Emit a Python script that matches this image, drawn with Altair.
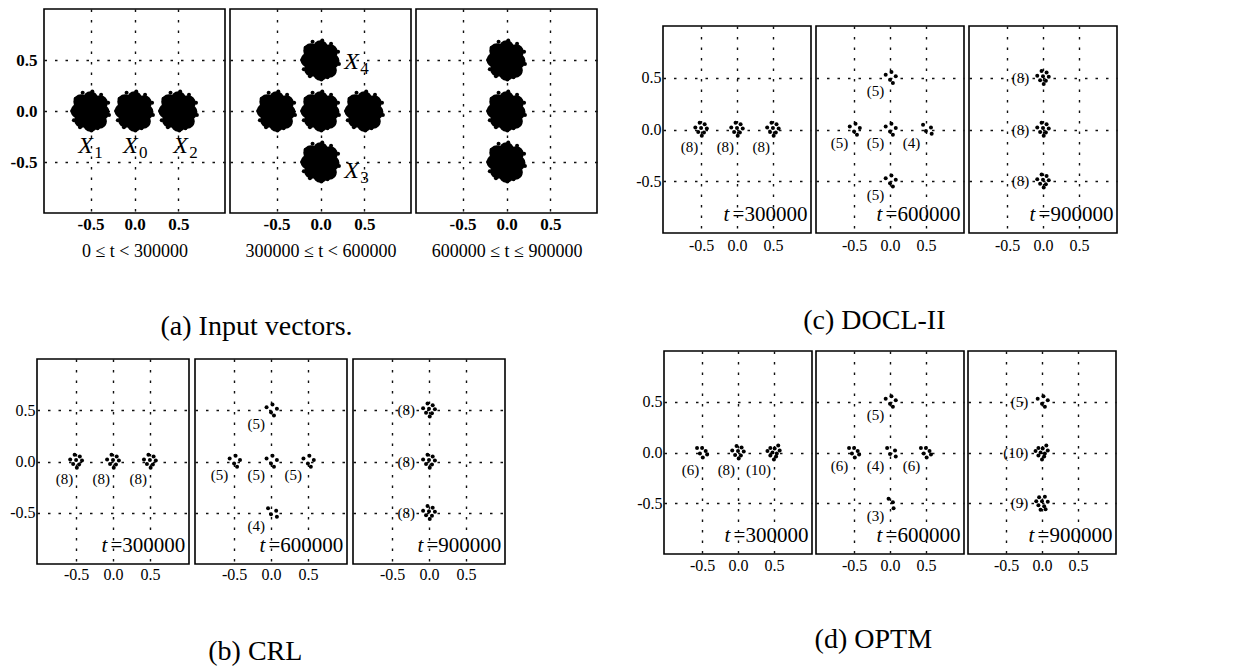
import altair as alt
import pandas as pd

FONT = "Liberation Serif"
TICKS = [-0.5, 0.0, 0.5]
XDOM = [-1.03, 1.03]
YDOM = [-1.0, 1.0]
LABEL_EXPR = "(datum.value < 0 ? '-' : '') + format(abs(datum.value), '.1f')"

# ---------------- (a) Input vectors ----------------
A_CX = [[-0.5, 0.0, 0.5], [0.0, -0.5, 0.0, 0.5, 0.0], [0.0, 0.0, 0.0]]
A_CY = [[0.0, 0.0, 0.0], [0.5, 0.0, 0.0, 0.0, -0.5], [0.5, 0.0, -0.5]]
A_TITLES = ["0 ≤ t < 300000", "300000 ≤ t < 600000", "600000 ≤ t ≤ 900000"]
A_SUB = [["1", "0", "2"], ["4", "3"], []]
A_LX = [[-0.64, -0.13, 0.44], [0.27, 0.27], []]
A_LY = [[-0.41, -0.41, -0.41], [0.41, -0.66], []]
LOBE_DX = [-0.11, 0.0, 0.11, 0.13, 0.10, 0.0, -0.10, -0.14]
LOBE_DY = [0.09, 0.12, 0.08, -0.01, -0.10, -0.13, -0.09, 0.0]
EDGE_DX = [-0.21, -0.17, -0.09, 0.02, 0.12, 0.20, 0.21, 0.15, 0.01, -0.12, -0.19, 0.08]
EDGE_DY = [0.0, 0.12, 0.18, 0.19, 0.16, 0.08, -0.04, -0.13, -0.19, -0.16, -0.09, -0.17]

# ---------------- prototype clusters (b)-(d) ----------------
CL_CX = [[-0.5, 0.0, 0.5], [0.0, -0.5, 0.0, 0.5, 0.0], [0.0, 0.0, 0.0]]
CL_CY = [[0.0, 0.0, 0.0], [0.5, 0.0, 0.0, 0.0, -0.5], [0.5, 0.0, -0.5]]
CRL_N = [[8, 8, 8], [5, 5, 5, 5, 4], [8, 8, 8]]
DOCL_N = [[8, 8, 8], [5, 5, 5, 4, 5], [8, 8, 8]]
OPTM_N = [[6, 8, 10], [5, 6, 4, 6, 3], [5, 10, 9]]
T_TEXT = ["=300000", "=600000", "=900000"]
T_POS = [0.98, -0.88]
LBL_DX = [-0.04, -0.08, -0.19]
LBL_DY = [-0.17, -0.13, 0.0]

PAT_DX = {
    3: [-0.02, 0.04, 0.05],
    4: [-0.04, 0.07, 0.0, 0.08],
    5: [-0.06, 0.02, 0.08, 0.0, 0.04],
    6: [-0.07, 0.0, 0.05, -0.03, 0.07, 0.01],
    8: [-0.02, 0.05, -0.08, 0.0, 0.08, -0.04, 0.04, 0.01],
    9: [-0.04, 0.04, -0.08, 0.0, 0.08, -0.05, 0.03, -0.02, 0.05],
    10: [0.06, -0.05, 0.01, 0.08, -0.09, -0.02, 0.04, -0.05, 0.03, 0.0],
}
PAT_DY = {
    3: [0.045, 0.01, -0.05],
    4: [0.045, 0.02, -0.015, -0.04],
    5: [0.03, 0.055, 0.015, -0.02, -0.05],
    6: [0.045, 0.045, 0.015, -0.01, -0.02, -0.05],
    8: [0.065, 0.05, 0.02, 0.015, 0.01, -0.025, -0.03, -0.06],
    9: [0.06, 0.065, 0.02, 0.02, 0.015, -0.02, -0.03, -0.065, -0.06],
    10: [0.07, 0.045, 0.04, 0.02, 0.015, 0.0, -0.01, -0.03, -0.04, -0.07],
}


def axis(show_labels, bold, size, pad, title=None, title_pad=0):
    kw = dict(values=TICKS, grid=True, ticks=False, domain=False,
              labelFont=FONT, labelFontSize=size,
              labelFontWeight="bold" if bold else "normal",
              labelColor="black", labelPadding=pad, labelExpr=LABEL_EXPR,
              labels=show_labels)
    if title:
        kw.update(title=title, titleFont=FONT, titleFontSize=18,
                  titleFontWeight="normal", titleColor="black",
                  titlePadding=title_pad)
    else:
        kw["title"] = None
    return alt.Axis(**kw)


def enc(xa, ya):
    return dict(
        x=alt.X("x:Q", scale=alt.Scale(domain=XDOM, nice=False, zero=False), axis=xa),
        y=alt.Y("y:Q", scale=alt.Scale(domain=YDOM, nice=False, zero=False), axis=ya),
    )


def spacer():
    return alt.Chart(pd.DataFrame({"v": [0]})).mark_rule(opacity=0).encode(
        x=alt.value(0), y=alt.value(0), y2=alt.value(0)
    ).properties(width=1, height=1, view=alt.ViewBackground(stroke="transparent"))


def tlabel_layers(i, e):
    num = alt.Chart(pd.DataFrame({"x": [T_POS[0]], "y": [T_POS[1]], "txt": [T_TEXT[i]]})).mark_text(
        align="right", baseline="alphabetic", font=FONT, fontSize=21, color="black"
    ).encode(text="txt:N", **e)
    tt = alt.Chart(pd.DataFrame({"x": [T_POS[0]], "y": [T_POS[1]], "txt": ["t"]})).mark_text(
        align="right", baseline="alphabetic", font=FONT, fontSize=21, fontStyle="italic",
        color="black", dx=-78
    ).encode(text="txt:N", **e)
    return [num, tt]


def cluster_panel(i, counts, w, h, show_y, lpad_x, lpad_y):
    e = enc(axis(True, False, 16, lpad_x), axis(show_y, False, 16, lpad_y))
    rows, lab = [], []
    for cx, cy, n in zip(CL_CX[i], CL_CY[i], counts[i]):
        for dx, dy in zip(PAT_DX[n], PAT_DY[n]):
            rows.append({"x": cx + dx, "y": cy + dy})
        lab.append({"x": cx + LBL_DX[i], "y": cy + LBL_DY[i], "txt": f"({n})"})
    dots = alt.Chart(pd.DataFrame(rows)).mark_circle(size=16, color="black", opacity=1).encode(**e)
    labels = alt.Chart(pd.DataFrame(lab)).mark_text(
        align="right", baseline="middle", font=FONT, fontSize=15, color="black"
    ).encode(text="txt:N", **e)
    layers = [dots, labels] + tlabel_layers(i, e)
    return alt.layer(*layers).properties(width=w, height=h)


def input_panel(i, w, h, show_y):
    e = enc(axis(True, True, 17, 3, A_TITLES[i], 10), axis(show_y, True, 17, 7))
    cores = pd.DataFrame({"x": A_CX[i], "y": A_CY[i]})
    lobes, edges = [], []
    for cx, cy in zip(A_CX[i], A_CY[i]):
        for dx, dy in zip(LOBE_DX, LOBE_DY):
            lobes.append({"x": cx + dx, "y": cy + dy})
        for dx, dy in zip(EDGE_DX, EDGE_DY):
            edges.append({"x": cx + dx, "y": cy + dy})
    layers = [
        alt.Chart(cores).mark_circle(size=760, color="black", opacity=1).encode(**e),
        alt.Chart(pd.DataFrame(lobes)).mark_circle(size=230, color="black", opacity=1).encode(**e),
        alt.Chart(pd.DataFrame(edges)).mark_circle(size=16, color="black", opacity=1).encode(**e),
    ]
    if A_SUB[i]:
        ldf = pd.DataFrame({"x": A_LX[i], "y": A_LY[i], "X": ["X"] * len(A_SUB[i]), "sub": A_SUB[i]})
        layers.append(alt.Chart(ldf).mark_text(
            align="left", baseline="alphabetic", font=FONT, fontSize=24, fontStyle="italic", color="black"
        ).encode(text="X:N", **e))
        layers.append(alt.Chart(ldf).mark_text(
            align="left", baseline="alphabetic", font=FONT, fontSize=17, color="black", dx=16, dy=5
        ).encode(text="sub:N", **e))
    return alt.layer(*layers).properties(width=w, height=h)


def caption(text, offset, dx=0):
    return alt.TitleParams(text=text, orient="bottom", anchor="middle", font=FONT, fontSize=28,
                           fontWeight="normal", color="black", offset=offset, dx=dx)


group_a = alt.hconcat(*[input_panel(i, 181, 204, i == 0) for i in range(3)],
                      spacing=3, title=caption("(a) Input vectors.", 52, -47))
group_c = alt.vconcat(
    spacer(),
    alt.hconcat(*[cluster_panel(i, DOCL_N, 148, 207, i == 0, 4, 2) for i in range(3)], spacing=3),
    spacing=14, title=caption("(c) DOCL-II", 53, -2))
group_b = alt.vconcat(
    spacer(),
    alt.hconcat(*[cluster_panel(i, CRL_N, 152, 205, i == 0, 2, 2) for i in range(3)], spacing=4),
    spacing=5, title=caption("(b) CRL", 55, -2))
group_d = alt.hconcat(*[cluster_panel(i, OPTM_N, 148, 203, i == 0, 3, 2) for i in range(3)],
                      spacing=2, title=caption("(d) OPTM", 52, -3))

chart = alt.vconcat(
    alt.hconcat(alt.hconcat(spacer(), group_a, spacing=-30), group_c, spacing=36),
    alt.hconcat(group_b, group_d, spacing=129),
    spacing=9,
).properties(padding=0, background="white").configure_view(
    stroke="black", strokeWidth=1.6
).configure_axis(
    gridColor="#111111", gridDash=[2.5, 8], gridWidth=1.4, gridOpacity=1
)

chart.save("out.html", embed_options={"renderer": "svg", "actions": False})
